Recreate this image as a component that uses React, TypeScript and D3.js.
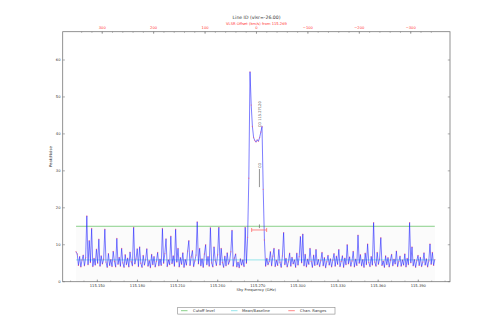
import React from "react";
import * as d3 from "d3";

// ---- data ----
const freqStart = 115.13407; // GHz, first channel
const freqStep = 0.0008972; // GHz per channel
const peakNoise = [
  8.1, 7.5, 4.4, 6.8, 4.0, 5.9, 7.2, 4.3, 6.5, 17.8,
  4.6, 11.1, 5.2, 14.4, 4.1, 6.3, 4.5, 8.8, 5.0, 11.5,
  4.2, 7.0, 4.8, 6.1, 14.2, 5.3, 3.9, 7.6, 4.4, 6.0,
  4.1, 8.2, 5.5, 4.0, 11.7, 4.7, 6.6, 4.2, 9.0, 5.1,
  3.9, 7.3, 4.6, 6.4, 4.0, 8.0, 5.4, 4.3, 14.7, 4.8,
  6.2, 8.9, 4.1, 9.4, 5.0, 3.9, 7.1, 4.5, 6.0, 8.9,
  4.2, 5.7, 3.8, 7.4, 4.6, 6.8, 4.0, 5.5, 7.9, 4.3,
  6.1, 4.4, 14.4, 5.0, 7.6, 11.6, 4.1, 5.9, 4.6, 12.3,
  4.9, 7.0, 4.2, 14.2, 5.3, 9.0, 4.0, 6.5, 4.7, 7.8,
  3.9, 6.0, 4.5, 8.3, 11.1, 4.4, 6.7, 8.4, 4.1, 5.6,
  7.2, 16.2, 4.8, 9.0, 4.3, 6.2, 3.9, 7.5, 10.0, 4.6,
  6.8, 4.2, 14.6, 5.1, 4.0, 9.4, 5.8, 4.4, 7.3, 14.7,
  4.5, 9.0, 5.2, 3.9, 6.9, 4.3, 7.8, 4.7, 5.6, 8.1,
  13.9, 4.2, 6.4, 7.5, 4.0, 5.3, 3.8, 6.2, 4.5, 5.9,
  4.1, 14.7, 5.0, 12.0, 28.0, 56.8, 47.8, 42.0, 39.0, 38.2,
  37.8, 38.4, 38.0, 39.0, 40.5, 42.0, 25.0, 11.3, 4.2, 6.3,
  4.6, 5.5, 8.1, 4.3, 6.9, 9.0, 4.1, 5.8, 4.4, 8.7,
  5.2, 3.9, 7.0, 13.3, 4.6, 6.3, 4.0, 5.4, 7.7, 4.2,
  6.6, 4.8, 5.9, 3.9, 7.7, 4.5, 6.8, 12.2, 5.1, 12.9,
  4.3, 7.4, 4.0, 6.1, 4.7, 9.0, 5.5, 3.9, 7.2, 4.4,
  8.7, 4.6, 6.0, 4.1, 5.7, 7.9, 4.3, 6.5, 3.8, 5.4,
  7.1, 4.5, 6.2, 4.0, 5.8, 7.6, 4.2, 6.9, 4.7, 8.7,
  4.1, 5.5, 7.0, 3.9, 6.4, 4.6, 10.0, 4.8, 6.7, 4.2,
  5.6, 8.2, 4.0, 6.1, 4.4, 12.6, 5.0, 7.3, 4.3, 6.0,
  3.9, 7.7, 4.6, 10.2, 5.2, 4.1, 6.8, 4.5, 16.0, 5.3,
  4.2, 7.9, 4.7, 6.2, 11.9, 4.4, 5.6, 3.9, 7.0, 4.6,
  6.5, 4.0, 5.8, 7.4, 4.3, 6.1, 4.8, 8.3, 4.1, 5.5,
  6.9, 4.2, 5.9, 4.5, 7.5, 4.0, 6.3, 4.6, 16.0, 5.1,
  9.4, 4.3, 6.0, 3.9, 5.7, 7.1, 4.4, 6.6, 4.1, 5.3,
  7.8, 4.5, 6.2, 4.0, 5.6, 10.2, 4.7, 7.9, 4.4, 6.0,
];
const cutoffLevel = 15;
const meanBaseline = 5.9;
const chanRange = [115.2654, 115.2766]; // GHz
const chanRangeLevel = 14;
const restFreq = 115.269;
const lineFreq = 115.2712;
const lineLabel = "CO 115.27120";
const lineShort = "CO";
const freqTicks = [115.15, 115.18, 115.21, 115.24, 115.27, 115.3, 115.33, 115.36, 115.39];
const velTicks = [300, 200, 100, 0, -100, -200, -300];
const yTicks = [0, 10, 20, 30, 40, 50, 60];
const legendLabels = ["Cutoff level", "Mean/Baseline", "Chan. Ranges"];

const C = 299792.458;

export default function App() {
  const W = 498, H = 332;
  const L = 62.7, R = 450, T = 31.7, B = 281.7;
  const fDomain = [115.1241, 115.4137];
  const x = d3.scaleLinear().domain(fDomain).range([L, R]);
  const y = d3.scaleLinear().domain([0, 67.66]).range([B, T]);
  const vDomain = fDomain.map((f) => C * (1 - f / restFreq));
  const xv = d3.scaleLinear().domain(vDomain).range([L, R]);

  const data = peakNoise.map((v, i) => ({ f: freqStart + i * freqStep, v }));
  const line = d3.line<{ f: number; v: number }>().x((d) => x(d.f)).y((d) => y(d.v));
  const f0 = data[0].f, f1 = data[data.length - 1].f;

  const minorF = d3.range(115.13, 115.411, 0.01);
  const minorV = d3.range(-340, 341, 20);
  const font = "DejaVu Sans, sans-serif";
  const axisCol = "#777";
  const tk = 2.2;

  const legX = 177.7, legY = 307.3;
  const legItems = [
    { c: "#7ccc7c", lx: 181, tx: 193 },
    { c: "#8be3ea", lx: 231, tx: 242 },
    { c: "#ff7b7b", lx: 288.3, tx: 300 },
  ];

  return (
    <svg width={W} height={H} style={{ position: "absolute", left: 0, top: 0, background: "#fff" }} fontFamily={font}>
      <rect x={0} y={0} width={W} height={H} fill="#fff" />
      {/* shaded region below cutoff */}
      <rect x={x(f0)} y={y(cutoffLevel)} width={x(f1) - x(f0)} height={y(0) - y(cutoffLevel)} fill="#fbfbfb" />
      {/* mean/baseline */}
      <line x1={x(f0)} x2={x(f1)} y1={y(meanBaseline)} y2={y(meanBaseline)} stroke="#8be3ea" strokeWidth={0.9} />
      {/* cutoff */}
      <line x1={x(f0)} x2={x(f1)} y1={y(cutoffLevel)} y2={y(cutoffLevel)} stroke="#7ccc7c" strokeWidth={0.9} />
      {/* spectrum */}
      <path d={line(data) || ""} fill="none" stroke="#1a1aff" strokeOpacity={0.75} strokeWidth={0.75} />
      {data.map((d, i) => (
        <circle key={i} cx={x(d.f)} cy={y(d.v)} r={0.65} fill="#ff4060" fillOpacity={0.55} />
      ))}
      {/* channel range */}
      <g stroke="#ff6b6b" strokeWidth={0.8}>
        <line x1={x(chanRange[0])} x2={x(chanRange[1])} y1={y(chanRangeLevel)} y2={y(chanRangeLevel)} />
        <line x1={x(chanRange[0])} x2={x(chanRange[0])} y1={y(chanRangeLevel) - 2} y2={y(chanRangeLevel) + 2} />
        <line x1={x(chanRange[1])} x2={x(chanRange[1])} y1={y(chanRangeLevel) - 2} y2={y(chanRangeLevel) + 2} />
      </g>
      {/* line id annotation */}
      <g stroke="#666" strokeWidth={0.7}>
        <line x1={x(lineFreq)} x2={x(lineFreq)} y1={y(30.5)} y2={y(25.6)} />
        <line x1={x(lineFreq)} x2={x(lineFreq)} y1={y(15.5)} y2={y(14.5)} />
      </g>
      <text transform={`translate(${x(lineFreq) + 1.6},${y(41.8)}) rotate(-90)`} fontSize={3.6} fill="#444">{lineLabel}</text>
      <text transform={`translate(${x(lineFreq) + 1.3},${y(30.8)}) rotate(-90)`} fontSize={3.6} fill="#444">{lineShort}</text>

      {/* frame */}
      <rect x={L} y={T} width={R - L} height={B - T} fill="none" stroke={axisCol} strokeWidth={0.8} />
      {/* bottom ticks */}
      {minorF.map((f, i) => (
        <g key={"mf" + i} stroke={axisCol} strokeWidth={0.5}>
          <line x1={x(f)} x2={x(f)} y1={B} y2={B - 1.2} />
        </g>
      ))}
      {freqTicks.map((f) => (
        <g key={"f" + f}>
          <line x1={x(f)} x2={x(f)} y1={B} y2={B - tk} stroke={axisCol} strokeWidth={0.6} />
          <text x={x(f)} y={B + 5.2} fontSize={3.7} textAnchor="middle" fill="#333">{f.toFixed(3)}</text>
        </g>
      ))}
      <text x={(L + R) / 2} y={B + 9.6} fontSize={3.8} textAnchor="middle" fill="#333">Sky Frequency (GHz)</text>
      {/* top ticks */}
      {minorV.map((v, i) => (
        xv(v) > L && xv(v) < R ? (
          <line key={"mv" + i} x1={xv(v)} x2={xv(v)} y1={T} y2={T + 1.2} stroke={axisCol} strokeWidth={0.5} />
        ) : null
      ))}
      {velTicks.map((v) => (
        <g key={"v" + v}>
          <line x1={xv(v)} x2={xv(v)} y1={T} y2={T + tk} stroke={axisCol} strokeWidth={0.6} />
          <text x={xv(v)} y={T - 2.4} fontSize={3.7} textAnchor="middle" fill="#ff3333">{v < 0 ? "\u2212" + Math.abs(v) : String(v)}</text>
        </g>
      ))}
      <text x={256.5} y={25.4} fontSize={3.7} textAnchor="middle" fill="#ff3333">VLSR Offset (km/s) from 115.269</text>
      <text x={256.5} y={18.6} fontSize={4.6} textAnchor="middle" fill="#333">Line ID (vlsr=-26.00)</text>
      {/* y ticks */}
      {yTicks.map((t) => (
        <g key={"y" + t}>
          <line x1={L} x2={L + tk} y1={y(t)} y2={y(t)} stroke={axisCol} strokeWidth={0.6} />
          <line x1={R} x2={R - tk} y1={y(t)} y2={y(t)} stroke={axisCol} strokeWidth={0.6} />
          <text x={L - 2.2} y={y(t) + 1.3} fontSize={3.7} textAnchor="end" fill="#333">{t}</text>
        </g>
      ))}
      <text transform={`translate(${51.5},${(T + B) / 2}) rotate(-90)`} fontSize={3.8} textAnchor="middle" fill="#333">Peak/Noise</text>

      {/* legend */}
      <rect x={legX} y={legY} width={157.3} height={6.8} fill="#fff" stroke="#888" strokeWidth={0.6} />
      {legItems.map((it, i) => (
        <g key={"l" + i}>
          <line x1={it.lx} x2={it.lx + 6.5} y1={legY + 3.4} y2={legY + 3.4} stroke={it.c} strokeWidth={0.9} />
          <text x={it.tx} y={legY + 4.7} fontSize={3.8} fill="#333">{legendLabels[i]}</text>
        </g>
      ))}
    </svg>
  );
}
